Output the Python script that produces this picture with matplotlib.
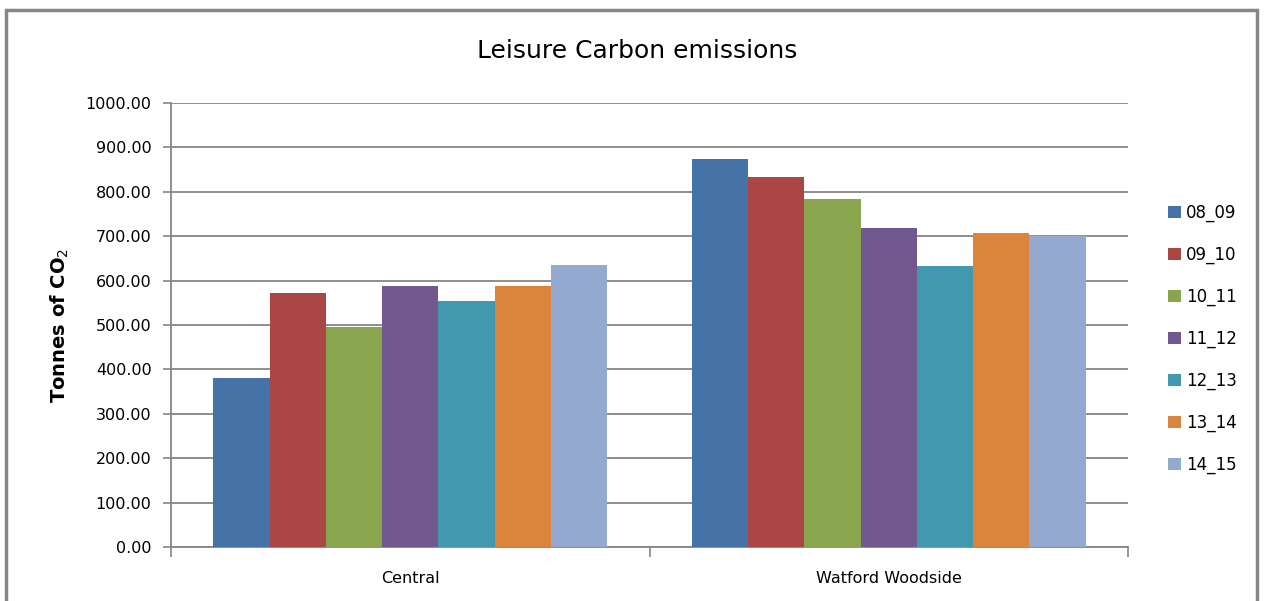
import numpy as np
import matplotlib.pyplot as plt
from matplotlib.patches import Rectangle

# data
sites = ['Central', 'Watford Woodside']
years = ['08_09', '09_10', '10_11', '11_12', '12_13', '13_14', '14_15']
central = [381, 573, 496, 588, 555, 588, 636]
watford = [874, 834, 784, 719, 634, 708, 700]
colors = ['#4572A7', '#AA4643', '#89A54E', '#71588F', '#4198AF', '#DB843D', '#93A9CF']
yticks = np.arange(0, 1001, 100)

plt.rcParams['font.family'] = ['DejaVu Sans']

fig = plt.figure(figsize=(12.64, 6.01), dpi=100)
# plot area in pixels: x 171..1128, y 103..547
ax = fig.add_axes([171/1264, 1-547/601, (1128-171)/1264, (547-103)/601])

vals = np.array([central, watford])
bw = 1/8.5
x = np.arange(len(sites))
for i, yr in enumerate(years):
    ax.bar(x - 0.5 + bw*0.75 + bw*(i+0.5), vals[:, i], width=bw, color=colors[i],
           label=yr, zorder=3, linewidth=0)

ax.set_xlim(-0.5, 1.5)
ax.set_ylim(0, 1000)
ax.set_yticks(yticks)
ax.set_yticklabels(['%.2f' % v for v in yticks], fontsize=11.5)
ax.yaxis.grid(True, color='#868686', linewidth=1.3, zorder=0)
ax.tick_params(axis='y', length=6, width=1.2, color='#868686', pad=8)

ax.set_xticks([-0.5, 0.5, 1.5])
ax.set_xticklabels([])
ax.set_xticks(x, minor=True)
ax.set_xticklabels(sites, minor=True, fontsize=11.5)
ax.tick_params(axis='x', which='major', length=7, width=1.2, color='#868686', direction='out')
ax.tick_params(axis='x', which='minor', length=0, pad=17)

for s in ['top', 'right']:
    ax.spines[s].set_visible(False)
for s in ['left', 'bottom']:
    ax.spines[s].set_color('#868686')
    ax.spines[s].set_linewidth(1.3)

ax.set_ylabel('Tonnes of CO$_2$', fontsize=14, fontweight='bold')
ax.yaxis.set_label_coords((71-171)/(1128-171), 0.5)
fig.text(637/1264, 1-51/601, 'Leisure Carbon emissions', fontsize=18,
         ha='center', va='center')

ax.legend(loc='center left', bbox_to_anchor=(1160/1264, 1-339/601),
          bbox_transform=fig.transFigure, frameon=False, fontsize=12,
          handlelength=0.75, handleheight=0.75, handletextpad=0.3,
          labelspacing=1.42, borderpad=0)

# outer chart border
fig.patches.append(Rectangle((6/1264, -0.05), (1257-6)/1264, 1-10/601 + 0.05,
                             transform=fig.transFigure, fill=False,
                             edgecolor='#868686', linewidth=2.5))

fig.savefig('out.png', dpi=100)
